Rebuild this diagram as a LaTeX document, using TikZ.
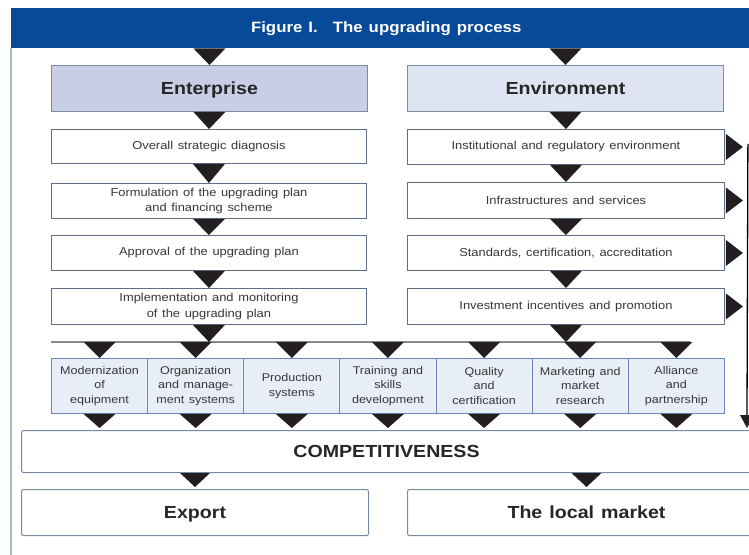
\documentclass[tikz,border=0pt]{standalone}
\usepackage{fontspec}
\setmainfont{Liberation Sans}[FakeStretch=1.12, WordSpace=1.3]
\usetikzlibrary{calc}

\definecolor{bandblue}{RGB}{8,74,154}
\definecolor{frameline}{RGB}{170,186,206}
\definecolor{entfill}{RGB}{200,206,230}
\definecolor{envfill}{RGB}{222,228,242}
\definecolor{cellfill}{RGB}{232,238,248}
\definecolor{boxline}{RGB}{95,110,135}
\definecolor{headline}{RGB}{125,140,165}
\definecolor{cellline}{RGB}{105,135,185}
\definecolor{outline}{RGB}{120,138,160}
\definecolor{trifill}{RGB}{35,31,32}
\definecolor{bodytext}{RGB}{55,55,55}
\definecolor{bustone}{RGB}{140,136,134}

\tikzset{
  x=1pt, y=-1pt,
  stepbox/.style={draw=boxline, line width=0.9pt, fill=white, inner sep=0pt,
    align=center, text=bodytext, anchor=north west,
    minimum width=315pt, font=\fontsize{11.5}{15.5}\selectfont},
  headbox/.style={draw=headline, line width=0.9pt, inner sep=0pt, anchor=north west,
    minimum width=316pt, minimum height=46pt, text=black!85,
    text height=12.6pt, text depth=0pt,
    font=\bfseries\fontsize{17.5}{20}\selectfont},
  cellbox/.style={draw=cellline, line width=0.9pt, fill=cellfill, inner sep=0pt,
    align=center, text=bodytext, anchor=north west,
    minimum width=96.14pt, minimum height=55pt,
    font=\fontsize{11.2}{14.5}\selectfont},
  resultbox/.style={draw=outline, line width=1pt, fill=white, rounded corners=2pt,
    inner sep=0pt, anchor=north west, text=black!85,
    text height=12.6pt, text depth=0pt,
    font=\bfseries\fontsize{17.5}{20}\selectfont},
  arrowfill/.style={fill=trifill},
  busline/.style={draw=bustone, line width=1.4pt},
  sideline/.style={draw=black, line width=1.3pt},
}

% downward wedge: top edge centred on #2, tip at #3, half width #1
\newcommand{\dwedge}[3][16]{%
  \fill[arrowfill] ($(#2)+(-#1,0)$) -- ($(#2)+(#1,0)$) -- (#3) -- cycle;}
% rightward wedge on the east side of a node
\newcommand{\rwedge}[1]{%
  \fill[arrowfill] ($(#1.east)+(1,-13)$) -- ($(#1.east)+(1,13)$) -- ($(#1.east)+(18,0)$) -- cycle;}

\begin{document}
\begin{tikzpicture}
\useasboundingbox (0,0) rectangle (749,554);
\clip (0,0) rectangle (749,554);
\fill[white] (0,0) rectangle (749,554);

% frame and title band
\draw[frameline, line width=2pt] (11,48) -- (11,560);
\node[fill=bandblue, anchor=north west, minimum width=750pt, minimum height=40pt,
      inner sep=0pt, text=white, font=\bfseries\fontsize{15}{18}\selectfont]
  (band) at (11,8) {Figure I.\quad The upgrading process};

% column heads
\node[headbox, fill=entfill] (ent) at (51,65) {Enterprise};
\node[headbox, fill=envfill] (env) at (407,65) {Environment};

% enterprise steps
\node[stepbox, minimum height=34pt] (l1) at (51,129) {Overall strategic diagnosis};
\node[stepbox, minimum height=35pt] (l2) at (51,183) {Formulation of the upgrading plan\\and financing scheme};
\node[stepbox, minimum height=35pt] (l3) at (51,235) {Approval of the upgrading plan};
\node[stepbox, minimum height=36pt] (l4) at (51,288) {Implementation and monitoring\\of the upgrading plan};

% environment steps
\node[stepbox, minimum width=317pt, minimum height=35pt] (r1) at (407,129) {Institutional and regulatory environment};
\node[stepbox, minimum width=317pt, minimum height=36pt] (r2) at (407,182) {Infrastructures and services};
\node[stepbox, minimum width=317pt, minimum height=35pt] (r3) at (407,235) {Standards, certification, accreditation};
\node[stepbox, minimum width=317pt, minimum height=36pt] (r4) at (407,288) {Investment incentives and promotion};

% distribution bus
\coordinate (busW) at (51,342);
\coordinate (busE) at (690,342);
\draw[busline] (busW) -- (busE);

% upgrading areas
\node[cellbox] (m1) at (51,358) {Modernization\\of\\equipment};
\node[cellbox] (m2) at (147.14,358) {Organization\\and manage-\\ment systems};
\node[cellbox] (m3) at (243.28,358) {Production\\systems};
\node[cellbox] (m4) at (339.42,358) {Training and\\skills\\development};
\node[cellbox] (m5) at (435.56,358) {Quality\\and\\certification};
\node[cellbox] (m6) at (531.70,358) {Marketing and\\market\\research};
\node[cellbox] (m7) at (627.84,358) {Alliance\\and\\partnership};

% results
\node[resultbox, minimum width=730pt, minimum height=42pt] (comp) at (21,430) {COMPETITIVENESS};
\node[resultbox, minimum width=347pt, minimum height=46pt] (export) at (21,489) {Export};
\node[resultbox, minimum width=358pt, minimum height=46pt] (local) at (407,489) {The local market};

% wedges down the enterprise column
\dwedge{ent.north |- band.south}{ent.north}
\dwedge{ent.south}{l1.north}
\dwedge{l1.south}{l2.north}
\dwedge{l2.south}{l3.north}
\dwedge{l3.south}{l4.north}
\dwedge{l4.south}{l4.south |- busW}

% wedges down the environment column
\dwedge{env.north |- band.south}{env.north}
\dwedge{env.south}{r1.north}
\dwedge{r1.south}{r2.north}
\dwedge{r2.south}{r3.north}
\dwedge{r3.south}{r4.north}
\dwedge{r4.south}{r4.south |- busW}

% wedges from the bus into each area and on to competitiveness
\foreach \m in {m1,m2,m3,m4,m5,m6,m7}{
  \dwedge{\m.north |- busW}{\m.north}
  \dwedge{\m.south}{$(\m.south |- comp.north)+(0,-2)$}
}

% environment side feed
\rwedge{r1}
\rwedge{r2}
\rwedge{r3}
\rwedge{r4}
\coordinate (sideTop) at ($(r1.east)+(23,-3)$);
\coordinate (sideEnd) at (747,415);
\draw[sideline] (sideTop) -- (sideEnd);
\fill[arrowfill] ($(sideEnd)+(-7,0)$) -- ($(sideEnd)+(7,0)$) -- ($(sideEnd)+(0,13)$) -- cycle;

% competitiveness to markets
\dwedge[15]{export.north |- comp.south}{$(export.north)+(0,-2)$}
\dwedge[15]{local.north |- comp.south}{$(local.north)+(0,-2)$}
\end{tikzpicture}
\end{document}
